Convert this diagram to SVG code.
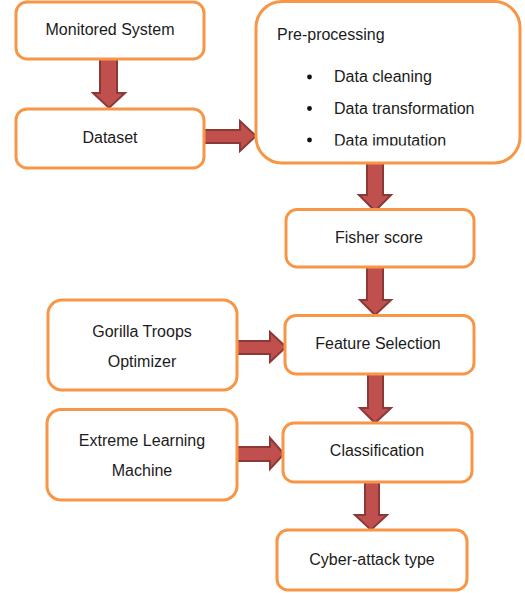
<svg xmlns="http://www.w3.org/2000/svg" width="525" height="593" viewBox="0 0 525 593">
<style>
.box{fill:#fff;stroke:#F79646;stroke-width:3}
.t{font-family:"Liberation Sans",Arial,sans-serif;font-size:16px;fill:#1b1b1b;text-anchor:middle}
.tl{font-family:"Liberation Sans",Arial,sans-serif;font-size:16px;fill:#1b1b1b}
.arr{fill:#C0504D;stroke:#8C3836;stroke-width:2;stroke-linejoin:miter}
</style>
<defs>
<clipPath id="clipPre"><rect x="256" y="0" width="265" height="145.5"/></clipPath>
</defs>
<rect width="525" height="593" fill="#fff"/>
<g id="connectors">
<polygon class="arr" points="100,59 117,59 117,93 125,93 109,108 93,93 100,93"/>
<polygon class="arr" points="204,130 240,130 240,121 256,136 240,151 240,143 204,143"/>
<polygon class="arr" points="367,163 383,163 383,195 391,195 375,211 359,195 367,195"/>
<polygon class="arr" points="367,267 383,267 383,300 391,300 375,315 360,300 367,300"/>
<polygon class="arr" points="237,341 270,341 270,332 286,347 270,362 270,354 237,354"/>
<polygon class="arr" points="368,374 383,374 383,408 391,408 375,423 360,408 368,408"/>
<polygon class="arr" points="237,447 270,447 270,438 284,454 270,469 270,461 237,461"/>
<polygon class="arr" points="365,482 379,482 379,515 387,515 371,530 355,515 365,515"/>
</g>
<g id="monitored">
<rect class="box" x="16" y="2" width="188" height="57" rx="11"/>
<text class="t" x="110" y="35">Monitored System</text>
</g>
<g id="dataset">
<rect class="box" x="16" y="109" width="188" height="59" rx="11"/>
<text class="t" x="110" y="143">Dataset</text>
</g>
<g id="preprocessing">
<rect class="box" x="256" y="1.5" width="264" height="161.5" rx="26"/>
<text class="tl" x="277" y="40">Pre-processing</text>
<circle cx="309.5" cy="77" r="2.4" fill="#111"/>
<circle cx="309.5" cy="108.5" r="2.4" fill="#111"/>
<circle cx="309.5" cy="140" r="2.4" fill="#111"/>
<text class="tl" x="334" y="82">Data cleaning</text>
<text class="tl" x="334" y="113.5">Data transformation</text>
<g clip-path="url(#clipPre)"><text class="tl" x="334" y="145.5">Data imputation</text></g>
</g>
<g id="fisher">
<rect class="box" x="286" y="209.5" width="188" height="57.5" rx="11"/>
<text class="t" x="379" y="243">Fisher score</text>
</g>
<g id="gto">
<rect class="box" x="48" y="300" width="189" height="90" rx="14"/>
<text class="t" x="142" y="337">Gorilla Troops</text>
<text class="t" x="142" y="367">Optimizer</text>
</g>
<g id="featsel">
<rect class="box" x="285" y="315.5" width="189" height="58.5" rx="11"/>
<text class="t" x="378" y="349">Feature Selection</text>
</g>
<g id="elm">
<rect class="box" x="47" y="409.5" width="190" height="90.5" rx="14"/>
<text class="t" x="142" y="446">Extreme Learning</text>
<text class="t" x="142" y="476">Machine</text>
</g>
<g id="classification">
<rect class="box" x="283" y="423" width="189" height="59" rx="11"/>
<text class="t" x="377" y="456">Classification</text>
</g>
<g id="cyber">
<rect class="box" x="277" y="530" width="190" height="60" rx="11"/>
<text class="t" x="372" y="565">Cyber-attack type</text>
</g>
</svg>
